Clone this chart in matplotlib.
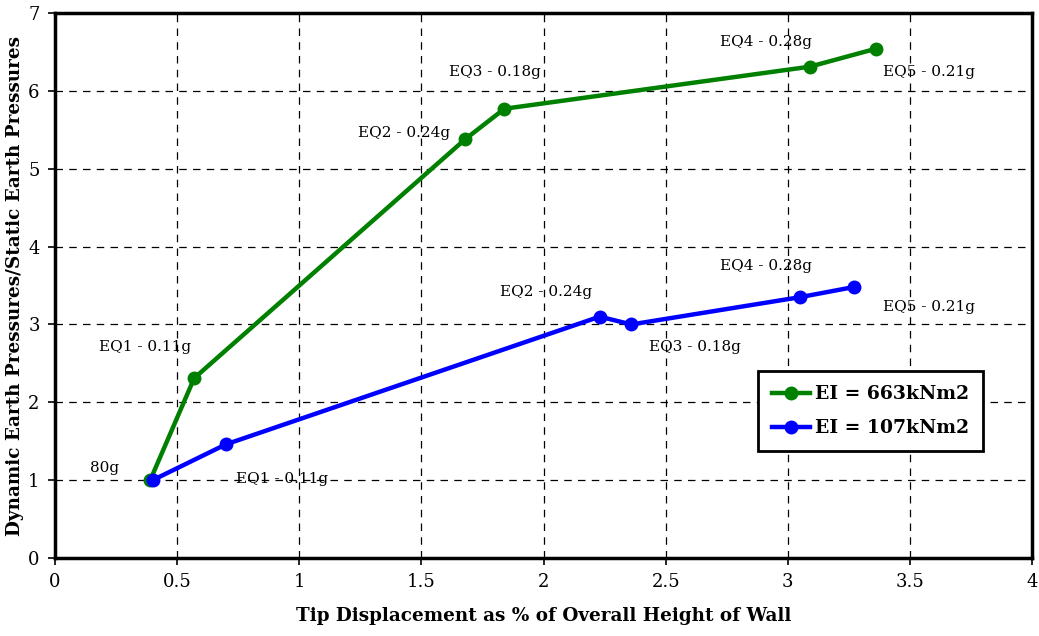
import matplotlib
matplotlib.use("Agg")
import matplotlib.pyplot as plt

# Tip displacement (% of wall height) vs dynamic/static earth pressure ratio
x_663 = [0.39, 0.57, 1.68, 1.84, 3.09, 3.36]
y_663 = [1.00, 2.31, 5.38, 5.77, 6.31, 6.54]
x_107 = [0.40, 0.70, 2.23, 2.36, 3.05, 3.27]
y_107 = [1.00, 1.46, 3.10, 3.00, 3.35, 3.48]

# event labels: (text, x, y)
labels_663 = [("80g", 0.205, 1.16), ("EQ1 - 0.11g", 0.37, 2.71),
              ("EQ2 - 0.24g", 1.43, 5.46), ("EQ3 - 0.18g", 1.80, 6.24),
              ("EQ4 - 0.28g", 2.91, 6.63), ("EQ5 - 0.21g", 3.58, 6.24)]
labels_107 = [("EQ1 - 0.11g", 0.93, 1.01), ("EQ2 - 0.24g", 2.01, 3.42),
              ("EQ3 - 0.18g", 2.62, 2.71), ("EQ4 - 0.28g", 2.91, 3.75),
              ("EQ5 - 0.21g", 3.58, 3.22)]

plt.rcParams["font.family"] = ["DejaVu Serif"]

fig = plt.figure(figsize=(10.39, 6.36), dpi=100)
ax = fig.add_axes([0.0529, 0.1226, 0.9404, 0.857])

ax.plot(x_663, y_663, color="#008000", lw=3.2, marker="o", ms=9,
        label="EI = 663kNm2", zorder=3)
ax.plot(x_107, y_107, color="#0000ff", lw=3.2, marker="o", ms=9,
        label="EI = 107kNm2", zorder=3)

for t, x, y in labels_663 + labels_107:
    ax.text(x, y, t, fontsize=11, ha="center", va="center", zorder=2)

ax.set_xlim(0, 4)
ax.set_ylim(0, 7)
ax.set_xticks([0, 0.5, 1, 1.5, 2, 2.5, 3, 3.5, 4])
ax.set_xticklabels(["0", "0.5", "1", "1.5", "2", "2.5", "3", "3.5", "4"])
ax.set_yticks(range(8))
ax.grid(True, color="black", linestyle=(0, (6, 5)), lw=0.9)
ax.set_axisbelow(True)
ax.tick_params(labelsize=13, direction="out", length=5, width=1.2, pad=6)
for s in ax.spines.values():
    s.set_linewidth(2.5)

ax.set_xlabel("Tip Displacement as % of Overall Height of Wall",
              fontsize=13.2, fontweight="bold", labelpad=11)
ax.set_ylabel("Dynamic Earth Pressures/Static Earth Pressures",
              fontsize=13.2, fontweight="bold", labelpad=3)

leg = ax.legend(loc="center", bbox_to_anchor=(0.835, 0.269),
                fancybox=False, edgecolor="black", framealpha=1,
                handlelength=2.0, handletextpad=0.3, borderpad=0.75,
                labelspacing=0.85, prop={"weight": "bold", "size": 13.5})
leg.get_frame().set_linewidth(2)

fig.savefig("out.png", dpi=100)
